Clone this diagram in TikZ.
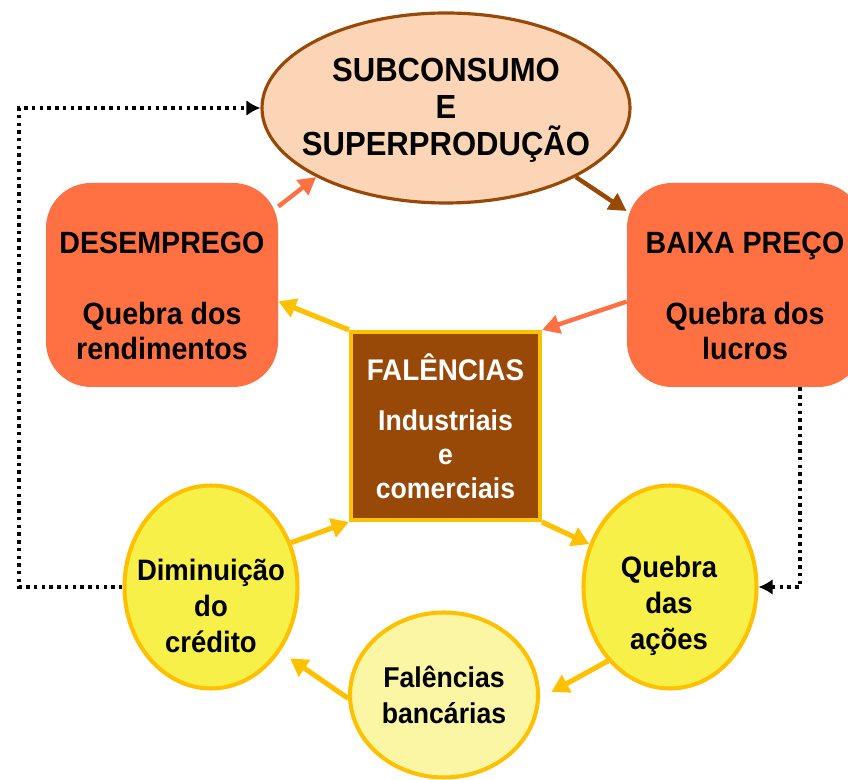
\documentclass[tikz,border=0pt]{standalone}
\usepackage{fontspec}
\setmainfont{Liberation Sans}[FakeStretch=0.93]
\usetikzlibrary{arrows.meta,shapes.geometric}

\definecolor{pessego}{HTML}{FBD5B5}
\definecolor{castanho}{HTML}{984807}
\definecolor{coral}{HTML}{FF7043}
\definecolor{ouro}{HTML}{FFC000}
\definecolor{amarelo}{HTML}{F7F049}
\definecolor{amareloclaro}{HTML}{FBF6A4}

\tikzset{
  caixa/.style={rectangle,rounded corners=0.9cm,fill=coral,minimum width=4.64cm,minimum height=4.08cm,inner sep=0pt},
  bola/.style={ellipse,draw=ouro,line width=2.3pt,fill=amarelo,minimum width=3.46cm,minimum height=4.06cm,inner sep=0pt},
  texto/.style={align=center,font=\bfseries\fontsize{16.8}{20.5}\selectfont},
  seta/.style={draw=ouro,line width=2.9pt,-{Triangle[length=10pt,width=11pt]}},
  setacoral/.style={draw=coral,line width=2.5pt,-{Triangle[length=10pt,width=10.5pt]}},
  setacast/.style={draw=castanho,line width=2.5pt,-{Triangle[length=10pt,width=10.5pt]}},
  pontilhado/.style={draw=black,line width=2pt,dash pattern=on 2pt off 2.4pt,-{Latex[length=8pt,width=9pt]}}
}

\begin{document}
\begin{tikzpicture}
\useasboundingbox (0,0) rectangle (16.96,-15.6);

% topo
\node[ellipse,draw=castanho,line width=1.8pt,fill=pessego,minimum width=7.36cm,minimum height=3.8cm,inner sep=0pt] (sub) at (8.92,-2.16) {};
\node[texto,font=\bfseries\fontsize{19}{21}\selectfont] (subtxt) at (8.92,-2.2) {SUBCONSUMO\\E\\SUPERPRODUÇÃO};

% caixas laterais
\node[caixa] (des) at (3.24,-5.70) {};
\node[texto,font=\bfseries\fontsize{17.5}{20}\selectfont] (destxt) at (3.24,-5.92) {DESEMPREGO\\[20pt]Quebra dos\\rendimentos};
\node[caixa,minimum width=4.72cm] (baixa) at (14.9,-5.70) {};
\node[texto,font=\bfseries\fontsize{17.5}{20}\selectfont] (baixatxt) at (14.9,-5.92) {BAIXA PREÇO\\[20pt]Quebra dos\\lucros};

% centro
\node[rectangle,draw=ouro,line width=2.3pt,fill=castanho,minimum width=3.78cm,minimum height=3.76cm,
      texto,text=white,font=\bfseries\fontsize{16.3}{19.4}\selectfont] (fal) at (8.91,-8.52)
      {{\fontsize{17}{19.4}\selectfont FALÊNCIAS}\\[9pt]Industriais\\e\\comerciais};

% elipses de baixo
\node[bola] (dim) at (4.22,-11.74) {};
\node[texto] (dimtxt) at (4.22,-12.12) {Diminuição\\do\\crédito};
\node[bola] (acoes) at (13.4,-11.74) {};
\node[texto] (acoestxt) at (13.38,-12.12) {Quebra\\das\\ações};
\node[bola,fill=amareloclaro,minimum width=3.76cm,minimum height=3.3cm,texto,font=\bfseries\fontsize{16.3}{20}\selectfont]
      (banc) at (8.88,-13.9) {Falências\\bancárias};

% setas do ciclo
\draw[setacoral] (des.34) -- (sub.208);
\draw[setacast] (sub.-28) -- (baixa.148);
\draw[setacoral] (baixa.188) -- (fal.north east);
\draw[seta] (fal.north west) -- (des.-8);
\draw[seta] (dim.29) -- (fal.south west);
\draw[seta] (fal.south east) -- (acoes.152);
\draw[seta,shorten >=0.26cm] (acoes.230) -- (banc.-2);
\draw[seta,shorten >=0.24cm] (banc.182) -- (dim.-43);

% ligacoes pontilhadas
\coordinate (lft) at (0.38,-5);
\coordinate (rgt) at (16.0,-8);
\draw[pontilhado] (dim.west) -| (lft) |- (sub.west);
\draw[pontilhado] (baixa.south -| rgt) |- (acoes.east);

\end{tikzpicture}
\end{document}
